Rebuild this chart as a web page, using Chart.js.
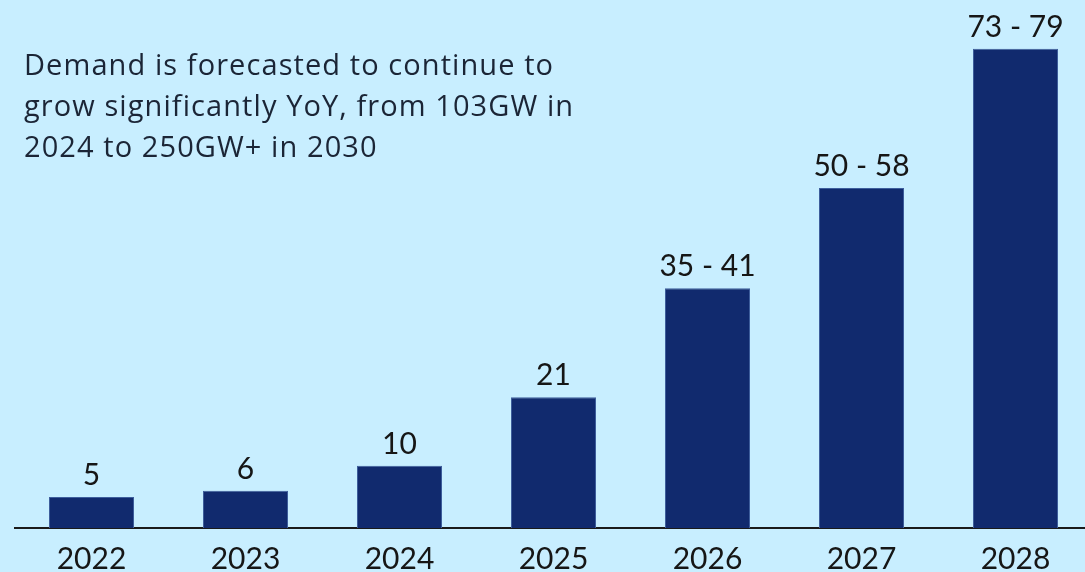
<!DOCTYPE html>
<html>
<head>
<meta charset="utf-8">
<script src="https://cdn.jsdelivr.net/npm/chart.js@4.4.0/dist/chart.umd.min.js"></script>
<style>
  html, body { margin: 0; padding: 0; background: #C8EEFF; overflow: hidden; width: 1085px; height: 572px; }
  #wrap { position: absolute; left: 0; top: 0; width: 1100px; height: 590px; }
  #note { position: absolute; left: 24px; top: 43px; font-family: "Open Sans", sans-serif; font-size: 29px; line-height: 41px; color: #1b2536; white-space: nowrap; }
</style>
</head>
<body>
<div id="wrap"><canvas id="c" width="1100" height="590"></canvas></div>
<div id="note"><span>Demand is forecasted to continue to</span><br><span id="l2">grow significantly YoY, from 103GW in</span><br><span>2024 to 250GW+ in 2030</span></div>
<script>
const years = ["2022", "2023", "2024", "2025", "2026", "2027", "2028"];
const demandValues = [5, 6, 10, 21, 38.5, 54.6, 77];
const demandLabels = ["5", "6", "10", "21", "35 - 41", "50 - 58", "73 - 79"];

// fit the note's width to the reference (line 2 about 549px wide)
(function fitNote() {
  const note = document.getElementById('note');
  const l2 = document.getElementById('l2');
  const w = l2.getBoundingClientRect().width;
  const chars = l2.textContent.length;
  const ls = (550 - w) / chars;
  note.style.letterSpacing = Math.max(-1.5, Math.min(3, ls)).toFixed(2) + 'px';
})();

const labelPlugin = {
  id: 'barLabels',
  afterDatasetsDraw(chart) {
    const ctx = chart.ctx;
    const meta = chart.getDatasetMeta(0);
    ctx.save();
    ctx.font = '30px Lato, sans-serif';
    ctx.fillStyle = '#161616';
    ctx.textAlign = 'center';
    ctx.textBaseline = 'alphabetic';
    meta.data.forEach((bar, i) => {
      ctx.fillText(demandLabels[i], bar.x, bar.y - 12);
    });
    ctx.restore();
  }
};

new Chart(document.getElementById('c'), {
  type: 'bar',
  data: {
    labels: years,
    datasets: [{
      data: demandValues,
      backgroundColor: '#112A6E',
      borderColor: '#3E5E9C',
      borderWidth: 1,
      barPercentage: 0.552,
      categoryPercentage: 1.0
    }]
  },
  options: {
    responsive: false,
    animation: false,
    layout: { padding: { left: 14.5, right: 7.5, top: 30, bottom: 0 } },
    plugins: { legend: { display: false }, tooltip: { enabled: false } },
    scales: {
      x: {
        grid: { display: false, drawTicks: false },
        border: { display: true, color: '#1a1a1a', width: 2 },
        ticks: { color: '#161616', font: { family: 'Lato, sans-serif', size: 30 }, padding: 13, maxRotation: 0 }
      },
      y: {
        display: false,
        min: 0,
        max: 80
      }
    }
  },
  plugins: [labelPlugin]
});
</script>
</body>
</html>
